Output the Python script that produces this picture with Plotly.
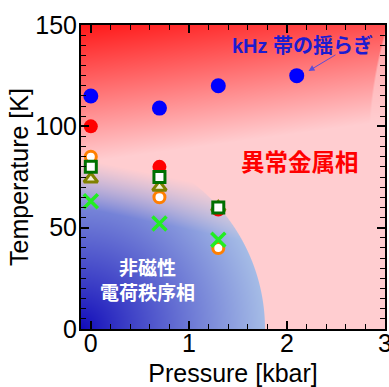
import numpy as np
import plotly.graph_objects as go

# Phase diagram data: pressure [kbar] vs temperature [K]
khz_p = [0.0, 0.7, 1.3, 2.1]
khz_t = [115, 109, 120, 125]

red_p = [0.0, 0.7, 1.3]
red_t = [100, 80, 59]

orange_p = [0.0, 0.7, 1.3]
orange_t = [85, 65, 40]

olive_p = [0.0, 0.7, 1.3]
olive_t = [74, 70, 60]

square_p = [0.0, 0.7, 1.3]
square_t = [80, 75, 60]

cross_p = [0.0, 0.7, 1.3]
cross_t = [63, 52, 44]

X_RANGE = [-0.1, 3.0]
Y_RANGE = [0, 150]
X_TICKS = [0, 1, 2, 3]
Y_TICKS = [0, 50, 100, 150]

# ---- shaded phase background ----
NX, NY = 304, 304
xs = X_RANGE[0] + (np.arange(NX) + 0.5) * (X_RANGE[1] - X_RANGE[0]) / NX
ts = Y_RANGE[0] + (np.arange(NY) + 0.5) * (Y_RANGE[1] - Y_RANGE[0]) / NY
XX, TT = np.meshgrid(xs, ts)
PX = (XX - X_RANGE[0]) / (X_RANGE[1] - X_RANGE[0]) * NX
PY = (TT - Y_RANGE[0]) / (Y_RANGE[1] - Y_RANGE[0]) * NY

pink = np.array([255, 205, 208], float)
red = np.array([255, 25, 25], float)

# red glow from the top-left corner
d = (150 - TT) / 68 + (XX - X_RANGE[0]) / (X_RANGE[1] - X_RANGE[0]) * 0.3
u = np.clip(1 - d, 0, 1)
# lighter arc along the top-right edge
rr = np.sqrt((PX - 719) ** 2 + (PY - 179) ** 2)
inside_arc = np.clip((432 - rr) / 2.0, 0, 1)
u = u * (1 - 0.65 * inside_arc)
img = pink[None, None, :] + (red - pink)[None, None, :] * u[..., None]

# charge-ordered region: quarter disc from the lower-left corner
deep = np.array([16, 10, 185], float)
light = np.array([165, 188, 230], float)
r = np.sqrt(PX ** 2 + PY ** 2) / 184.0
s = np.clip(r, 0, 1) ** 0.9
blue = deep[None, None, :] + (light - deep)[None, None, :] * s[..., None]
edge = np.clip((1 - r) * 184.0 + 0.5, 0, 1)
fade = np.clip((84 - (TT + 10 * (XX - X_RANGE[0]))) / 24, 0, 1)
alpha = (edge * fade)[..., None]
img = img * (1 - alpha) + blue * alpha
img = np.clip(np.round(img), 0, 255).astype(np.uint8)

fig = go.Figure()
fig.add_trace(go.Image(
    z=img,
    x0=xs[0], dx=xs[1] - xs[0],
    y0=ts[0], dy=ts[1] - ts[0],
    hoverinfo="skip",
))

fig.add_trace(go.Scatter(x=khz_p, y=khz_t, mode="markers",
                         marker=dict(symbol="circle", size=15, color="#0000ff", line=dict(width=0))))
fig.add_trace(go.Scatter(x=red_p, y=red_t, mode="markers",
                         marker=dict(symbol="circle", size=14, color="#ff0000", line=dict(width=0))))
fig.add_trace(go.Scatter(x=orange_p, y=orange_t, mode="markers",
                         marker=dict(symbol="circle", size=11, color="white",
                                     line=dict(width=3, color="#ff7f00"))))
fig.add_trace(go.Scatter(x=olive_p, y=olive_t, mode="markers",
                         marker=dict(symbol="triangle-up", size=12, color="#f4f0d8",
                                     line=dict(width=3, color="#808000"))))
fig.add_trace(go.Scatter(x=square_p, y=square_t, mode="markers",
                         marker=dict(symbol="square", size=11, color="white",
                                     line=dict(width=3, color="#007000"))))
fig.add_trace(go.Scatter(x=cross_p, y=cross_t, mode="markers",
                         marker=dict(symbol="x-thin", size=14, color="#22ee22",
                                     line=dict(width=3.5, color="#22ee22"))))

cjk = "Liberation Sans, Arial, Noto Sans CJK JP"
annotations = [
    dict(x=2.16, y=140, text="<b>kHz 帯の揺らぎ</b>", showarrow=False,
         font=dict(family=cjk, size=20, color="#1c1cd0")),
    dict(x=2.22, y=127.3, ax=2.51, ay=135.7, axref="x", ayref="y", text="",
         showarrow=True, arrowhead=2, arrowsize=1.2, arrowwidth=1, arrowcolor="#5a4cd8"),
    dict(x=2.13, y=82, text="<b>異常金属相</b>", showarrow=False,
         font=dict(family=cjk, size=23.5, color="#ff0000")),
    dict(x=0.58, y=30, text="<b>非磁性</b>", showarrow=False,
         font=dict(family=cjk, size=19, color="white")),
    dict(x=0.58, y=17.8, text="<b>電荷秩序相</b>", showarrow=False,
         font=dict(family=cjk, size=19, color="white")),
]

axis_common = dict(
    showgrid=False, zeroline=False, showline=True, linecolor="black", linewidth=2,
    mirror="allticks", ticks="inside", ticklen=8, tickwidth=1.5, tickcolor="black",
    tickfont=dict(family="Liberation Sans, Arial", size=25, color="black"),
    autorange=False, automargin=False, ticklabeloverflow="allow",
)

fig.update_layout(
    width=389, height=387,
    margin=dict(l=81, r=4, t=25, b=58),
    paper_bgcolor="white", plot_bgcolor="white",
    showlegend=False,
    annotations=annotations,
    xaxis=dict(range=X_RANGE, tickvals=X_TICKS, ticktext=[str(v) for v in X_TICKS],
               minor=dict(dtick=0.2, ticks="inside", ticklen=5, tickwidth=1.2, tickcolor="black"),
               ticklabelstandoff=-9,
               title=dict(text="Pressure [kbar]", standoff=12,
                          font=dict(family="Liberation Sans, Arial", size=25, color="black")),
               constrain="range", **axis_common),
    yaxis=dict(range=Y_RANGE, tickvals=Y_TICKS, ticktext=[str(v) for v in Y_TICKS],
               minor=dict(dtick=5, ticks="inside", ticklen=5, tickwidth=1.2, tickcolor="black"),
               ticklabelstandoff=-3,
               title=dict(text="Temperature [K]", standoff=0,
                          font=dict(family="Liberation Sans, Arial", size=25, color="black")),
               scaleanchor=False, constrain="range", **axis_common),
)

fig.write_html("out.html")
